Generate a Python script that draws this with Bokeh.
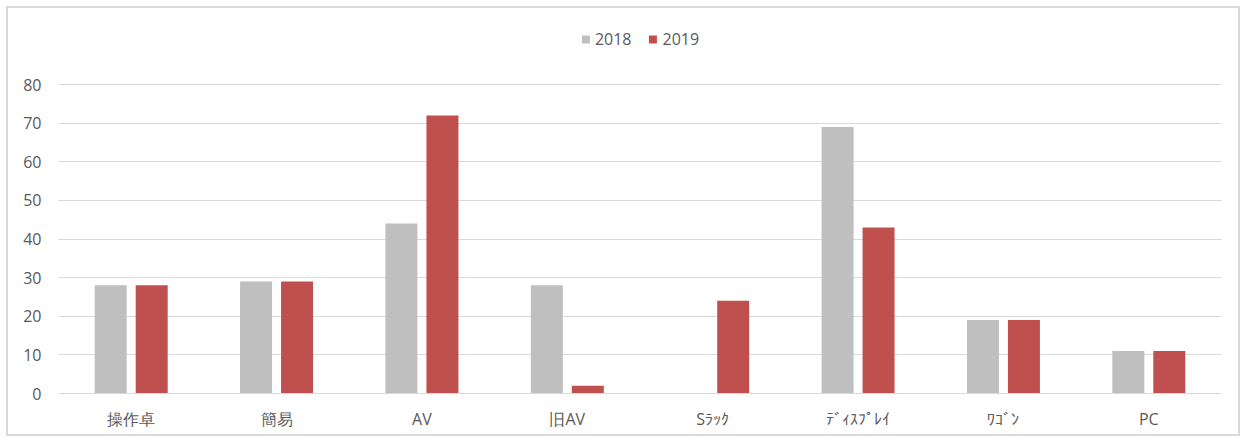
from bokeh.plotting import figure
from bokeh.models import ColumnDataSource, FactorRange, Legend, LegendItem
from bokeh.transform import dodge
from bokeh.embed import file_html
from bokeh.resources import INLINE

categories = ["操作卓", "簡易", "AV", "旧AV", "Sﾗｯｸ", "ﾃﾞｨｽﾌﾟﾚｲ", "ﾜｺﾞﾝ", "PC"]
v2018 = [28, 29, 44, 28, 0, 69, 19, 11]
v2019 = [28, 29, 72, 2, 24, 43, 19, 11]
y_ticks = [0, 10, 20, 30, 40, 50, 60, 70, 80]

src = ColumnDataSource(dict(cat=categories, a=v2018, b=v2019))

p = figure(x_range=FactorRange(*categories), y_range=(0, 96.57), width=1234, height=430,
           output_backend="svg", toolbar_location=None,
           min_border_left=50, min_border_right=21, min_border_top=12, min_border_bottom=45)
p.styles = {"border": "2px solid #D9D9D9", "margin-left": "6px", "margin-top": "6px"}
p.outline_line_color = None
p.x_range.range_padding = 0

r1 = p.vbar(x=dodge("cat", -0.141, range=p.x_range), top="a", width=0.22, source=src,
            fill_color="#BFBFBF", line_color=None)
r2 = p.vbar(x=dodge("cat", 0.141, range=p.x_range), top="b", width=0.22, source=src,
            fill_color="#C0504D", line_color=None)

legend = Legend(items=[LegendItem(label="2018", renderers=[r1]),
                       LegendItem(label="2019", renderers=[r2])],
                orientation="horizontal", location="top_center",
                label_text_font="Open Sans", label_text_font_size="16px",
                label_text_color="#595959", glyph_width=10, glyph_height=10,
                spacing=16, label_standoff=5, border_line_color=None,
                background_fill_alpha=0, margin=8, padding=4)
p.add_layout(legend, "center")

p.ygrid.grid_line_color = "#D9D9D9"
p.xgrid.grid_line_color = None
p.yaxis.axis_line_color = None
p.yaxis.major_tick_line_color = None
p.yaxis.minor_tick_line_color = None
p.yaxis.ticker = y_ticks
p.xaxis.axis_line_color = "#D9D9D9"
p.xaxis.major_tick_line_color = None
p.xaxis.minor_tick_line_color = None
for ax in (p.xaxis, p.yaxis):
    ax.major_label_text_font = "Open Sans"
    ax.major_label_text_font_size = "16px"
    ax.major_label_text_color = "#595959"
p.xaxis.major_label_standoff = 8
p.yaxis.major_label_standoff = 11

open("out.html", "w").write(file_html(p, INLINE))
